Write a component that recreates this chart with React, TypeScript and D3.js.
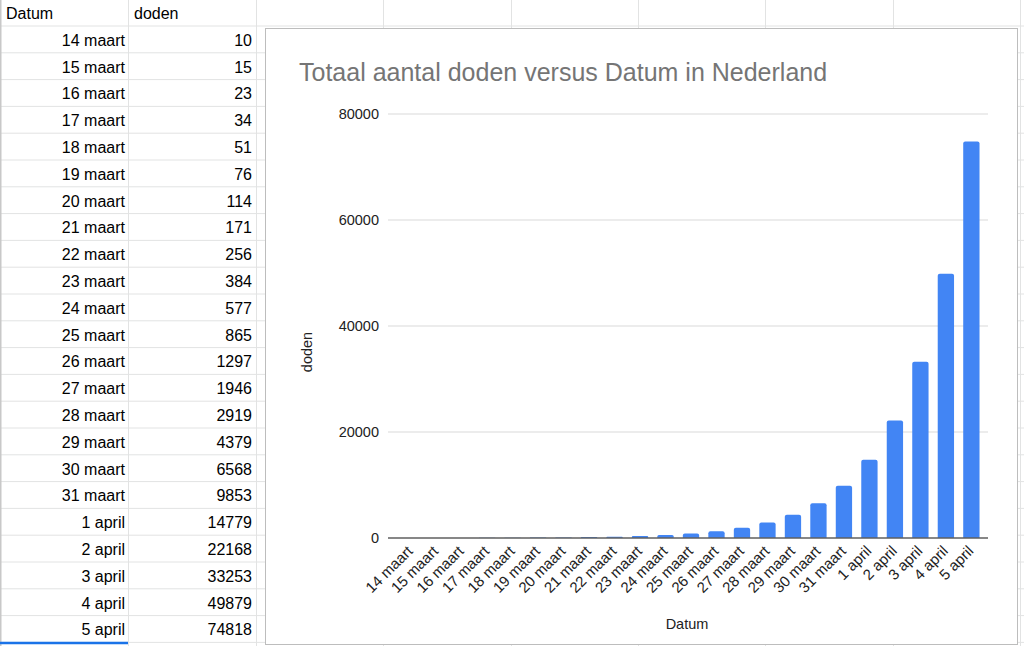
import React from "react";
import * as d3 from "d3";

const dates = [
  "14 maart", "15 maart", "16 maart", "17 maart", "18 maart", "19 maart",
  "20 maart", "21 maart", "22 maart", "23 maart", "24 maart", "25 maart",
  "26 maart", "27 maart", "28 maart", "29 maart", "30 maart", "31 maart",
  "1 april", "2 april", "3 april", "4 april", "5 april",
];
const deaths = [
  10, 15, 23, 34, 51, 76, 114, 171, 256, 384, 577, 865, 1297, 1946, 2919,
  4379, 6568, 9853, 14779, 22168, 33253, 49879, 74818,
];
const yTicks = [0, 20000, 40000, 60000, 80000];
const headers = ["Datum", "doden"];
const title = "Totaal aantal doden versus Datum in Nederland";
const xTitle = "Datum";
const yTitle = "doden";

const W = 1024;
const H = 646;
const FONT = "Arial, 'Liberation Sans', sans-serif";

export default function App() {
  const colEdges = [0, 128, 256, 383, 511, 638, 765, 893, 1020];
  const rowTop = 26;
  const rowH = 26.8;
  const nRows = dates.length;

  const x = d3.scaleBand<string>().domain(dates).range([391, 991]).paddingInner(0.36).paddingOuter(0.45);
  const y = d3.scaleLinear().domain([0, 80000]).range([538, 114]);

  const chart = { x: 265, y: 28, w: 752, h: 616 };

  return (
    <svg width={W} height={H} style={{ position: "absolute", left: 0, top: 0, background: "#fff" }} fontFamily={FONT}>
      <rect x={0} y={0} width={W} height={H} fill="#fff" />
      {/* spreadsheet grid */}
      {colEdges.map((cx, i) => (
        <line key={"c" + i} x1={cx + 0.5} x2={cx + 0.5} y1={0} y2={H} stroke="#e2e3e3" strokeWidth={1} />
      ))}
      {d3.range(nRows + 2).map((i) => (
        <line key={"r" + i} x1={0} x2={W} y1={rowTop + i * rowH} y2={rowTop + i * rowH} stroke="#e2e3e3" strokeWidth={1} />
      ))}
      <line x1={0.5} x2={0.5} y1={0} y2={H} stroke="#c8c8c8" strokeWidth={2} />
      {/* header */}
      <text x={6} y={rowTop - 7} fontSize={16} fill="#000">{headers[0]}</text>
      <text x={134} y={rowTop - 7} fontSize={16} fill="#000">{headers[1]}</text>
      {dates.map((d, i) => (
        <g key={"row" + i}>
          <text x={125} y={rowTop + (i + 1) * rowH - 7} fontSize={16} textAnchor="end" fill="#000">{d}</text>
          <text x={252} y={rowTop + (i + 1) * rowH - 7} fontSize={16} textAnchor="end" fill="#000">{deaths[i]}</text>
        </g>
      ))}
      <line x1={0} x2={128} y1={rowTop + nRows * rowH + 0.5} y2={rowTop + nRows * rowH + 0.5} stroke="#1a73e8" strokeWidth={2.5} />

      {/* chart box */}
      <rect x={chart.x + 0.5} y={chart.y + 0.5} width={chart.w} height={chart.h} fill="#fff" stroke="#bdbdbd" strokeWidth={1} />
      <text x={299} y={81} fontSize={25} fill="#757575">{title}</text>

      {/* gridlines */}
      {yTicks.map((t) => (
        <g key={"t" + t}>
          {t !== 0 && (
            <line x1={388} x2={988} y1={y(t)} y2={y(t)} stroke="#d9d9d9" strokeWidth={1} />
          )}
          <text x={379} y={y(t)} dy="0.35em" fontSize={14.5} textAnchor="end" fill="#222">{t}</text>
        </g>
      ))}

      {/* bars */}
      {dates.map((d, i) => {
        const bx = x(d) as number;
        const bw = x.bandwidth();
        const top = y(deaths[i]);
        const h = y(0) - top;
        const r = Math.min(2, h / 2);
        const path = d3.path();
        path.moveTo(bx, y(0));
        path.lineTo(bx, top + r);
        path.quadraticCurveTo(bx, top, bx + r, top);
        path.lineTo(bx + bw - r, top);
        path.quadraticCurveTo(bx + bw, top, bx + bw, top + r);
        path.lineTo(bx + bw, y(0));
        path.closePath();
        return <path key={"b" + i} d={path.toString()} fill="#4285f4" />;
      })}

      {/* baseline */}
      <line x1={388} x2={988} y1={y(0)} y2={y(0)} stroke="#5f5f5f" strokeWidth={1.5} />

      {/* x labels */}
      {dates.map((d) => {
        const cx = (x(d) as number) + x.bandwidth() / 2;
        return (
          <text key={"xl" + d} transform={`translate(${cx + 3},${552}) rotate(-45)`} fontSize={15} textAnchor="end" fill="#222">{d}</text>
        );
      })}

      {/* axis titles */}
      <text x={687} y={629} fontSize={14.5} textAnchor="middle" fill="#222">{xTitle}</text>
      <text transform={`translate(312,352) rotate(-90)`} fontSize={14.5} textAnchor="middle" fill="#222">{yTitle}</text>
    </svg>
  );
}
